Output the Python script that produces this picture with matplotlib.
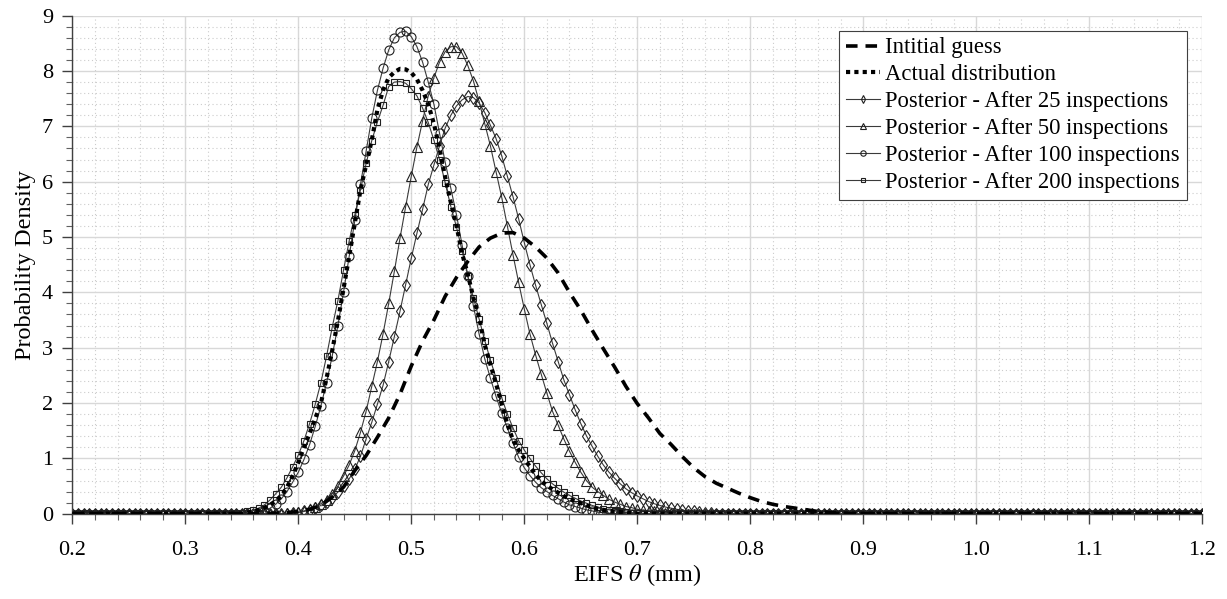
import numpy as np
import matplotlib
matplotlib.use('Agg')
import matplotlib.pyplot as plt
from matplotlib.ticker import MultipleLocator, FormatStrFormatter

plt.rcParams['font.family'] = ['Liberation Serif', 'DejaVu Serif']
plt.rcParams['mathtext.fontset'] = 'stix'

# x grid of the posterior curves (one marker every 0.005 mm)
theta = np.round(np.linspace(0.2, 1.2, 201), 3)

# values, listed from the first non-zero x
guess_start = 0.38
guess_vals = [0.01, 0.02, 0.04, 0.08, 0.15, 0.30, 0.48, 0.78, 1.05, 1.38,
              1.73, 2.16, 2.67, 3.12, 3.50, 3.93, 4.27, 4.56, 4.82, 4.98,
              5.07, 5.08, 4.98, 4.82, 4.62, 4.35, 4.00, 3.68, 3.32, 2.98,
              2.65, 2.30, 1.99, 1.73, 1.45, 1.25, 1.03, 0.83, 0.67, 0.55,
              0.46, 0.37, 0.29, 0.22, 0.17, 0.13, 0.10, 0.07, 0.04, 0.02,
              0.01]

actual_start = 0.355
actual_vals = [0.02, 0.04, 0.07, 0.11, 0.16, 0.23, 0.32, 0.48, 0.68, 0.93,
               1.20, 1.45, 1.72, 2.00, 2.45, 2.95, 3.48, 4.06, 4.65, 5.25,
               5.85, 6.30, 6.75, 7.30, 7.65, 7.88, 7.98, 8.04, 8.03, 7.97,
               7.85, 7.65, 7.40, 7.05, 6.60, 6.08, 5.62, 5.20, 4.70, 4.33,
               3.90, 3.55, 3.05, 2.70, 2.35, 1.98, 1.62, 1.33, 1.15, 1.00,
               0.85, 0.71, 0.59, 0.51, 0.44, 0.38, 0.32, 0.27, 0.23, 0.19,
               0.15, 0.12, 0.09, 0.07, 0.05, 0.04, 0.03, 0.02, 0.01]

post25_start = 0.395
post25_vals = [0.01, 0.02, 0.04, 0.06, 0.10, 0.15, 0.21, 0.29, 0.39, 0.50,
               0.63, 0.80, 1.04, 1.35, 1.65, 1.98, 2.32, 2.75, 3.20, 3.66,
               4.14, 4.62, 5.07, 5.50, 5.95, 6.30, 6.65, 6.97, 7.20, 7.37,
               7.48, 7.54, 7.52, 7.42, 7.25, 7.02, 6.78, 6.47, 6.10, 5.73,
               5.33, 4.90, 4.50, 4.13, 3.78, 3.44, 3.08, 2.75, 2.42, 2.15,
               1.88, 1.63, 1.41, 1.22, 1.04, 0.88, 0.75, 0.64, 0.54, 0.45,
               0.38, 0.32, 0.27, 0.22, 0.18, 0.15, 0.12, 0.10, 0.08, 0.06,
               0.05, 0.04, 0.03, 0.02, 0.01]

post50_start = 0.39
post50_vals = [0.01, 0.02, 0.03, 0.05, 0.08, 0.12, 0.18, 0.25, 0.36, 0.50,
               0.68, 0.88, 1.14, 1.47, 1.85, 2.30, 2.75, 3.25, 3.80, 4.38,
               4.98, 5.55, 6.10, 6.63, 7.10, 7.55, 7.88, 8.16, 8.35, 8.44,
               8.44, 8.32, 8.10, 7.82, 7.45, 7.05, 6.65, 6.18, 5.72, 5.20,
               4.68, 4.18, 3.70, 3.25, 2.87, 2.52, 2.18, 1.85, 1.60, 1.35,
               1.13, 0.93, 0.75, 0.60, 0.48, 0.40, 0.33, 0.26, 0.21, 0.17,
               0.13, 0.11, 0.08, 0.06, 0.05, 0.04, 0.03, 0.02, 0.01]

post100_start = 0.37
post100_vals = [0.05, 0.10, 0.17, 0.27, 0.40, 0.57, 0.75, 0.98, 1.25, 1.58,
                1.95, 2.37, 2.85, 3.40, 4.00, 4.65, 5.30, 5.95, 6.55, 7.15,
                7.65, 8.05, 8.38, 8.60, 8.70, 8.72, 8.62, 8.44, 8.16, 7.80,
                7.40, 6.88, 6.35, 5.88, 5.40, 4.85, 4.30, 3.75, 3.25, 2.80,
                2.45, 2.12, 1.82, 1.55, 1.28, 1.02, 0.83, 0.69, 0.57, 0.47,
                0.40, 0.33, 0.27, 0.21, 0.16, 0.13, 0.10, 0.07, 0.05, 0.03,
                0.02, 0.01]

post200_start = 0.35
post200_vals = [0.02, 0.04, 0.06, 0.10, 0.16, 0.25, 0.36, 0.48, 0.65, 0.85,
                1.06, 1.32, 1.63, 1.98, 2.37, 2.85, 3.37, 3.85, 4.40, 4.93,
                5.40, 5.85, 6.33, 6.74, 7.08, 7.38, 7.72, 7.80, 7.81, 7.78,
                7.68, 7.55, 7.33, 7.07, 6.75, 6.40, 5.98, 5.55, 5.18, 4.75,
                4.30, 3.90, 3.52, 3.13, 2.78, 2.45, 2.10, 1.80, 1.55, 1.32,
                1.15, 1.00, 0.86, 0.74, 0.63, 0.54, 0.46, 0.39, 0.33, 0.28,
                0.23, 0.19, 0.15, 0.12, 0.09, 0.07, 0.05, 0.04, 0.03, 0.02,
                0.01]

labels = ['Intitial guess', 'Actual distribution',
          'Posterior - After 25 inspections', 'Posterior - After 50 inspections',
          'Posterior - After 100 inspections', 'Posterior - After 200 inspections']


def on_grid(x, start, vals):
    # put the read values on the x grid, zero elsewhere
    y = np.zeros(len(x))
    step = x[1] - x[0]
    i0 = int(round((start - x[0]) / step))
    y[i0:i0 + len(vals)] = vals
    return y


theta_guess = np.round(np.linspace(0.2, 1.2, 101), 3)
y_guess = on_grid(theta_guess, guess_start, guess_vals)
y_actual = on_grid(theta, actual_start, actual_vals)
y25 = on_grid(theta, post25_start, post25_vals)
y50 = on_grid(theta, post50_start, post50_vals)
y100 = on_grid(theta, post100_start, post100_vals)
y200 = on_grid(theta, post200_start, post200_vals)

fig = plt.figure(figsize=(12.27, 5.99), dpi=100)
ax = fig.add_axes([0.059, 0.1424, 0.9207, 0.8314])

line_c = '#3a3a3a'
mk = dict(color=line_c, lw=0.8, mfc='none', mec='#202020', mew=0.8)

ax.plot(theta_guess, y_guess, ls=(0, (3.2, 2.2)), color='black', lw=2.6, label=labels[0], zorder=3)
ax.plot(theta, y_actual, ls=(0, (1, 1)), color='black', lw=3.0, label=labels[1], zorder=3)
ax.plot(theta, y25, marker='d', ms=6.5, label=labels[2], **mk)
ax.plot(theta, y50, marker='^', ms=6.5, label=labels[3], **mk)
ax.plot(theta, y100, marker='o', ms=6.5, label=labels[4], **mk)
ax.plot(theta, y200, marker='s', ms=5.0, label=labels[5], **mk)

ax.set_xlim(0.2, 1.2)
ax.set_ylim(0, 9)
ax.xaxis.set_major_locator(MultipleLocator(0.1))
ax.xaxis.set_minor_locator(MultipleLocator(0.02))
ax.yaxis.set_major_locator(MultipleLocator(1))
ax.yaxis.set_minor_locator(MultipleLocator(0.2))
ax.xaxis.set_major_formatter(FormatStrFormatter('%.1f'))

ax.grid(which='major', color='#d8d8d8', lw=1.0, ls='-')
ax.grid(which='minor', color='#cccccc', lw=0.8, ls=(0, (1, 2.5)))
ax.set_axisbelow(True)

for s in ['top', 'right']:
    ax.spines[s].set_visible(False)
for s in ['left', 'bottom']:
    ax.spines[s].set_color('#404040')
    ax.spines[s].set_linewidth(1.0)

ax.tick_params(which='major', length=7, width=1.0, color='#404040', labelsize=16)
ax.tick_params(axis='x', which='major', pad=13)
ax.tick_params(axis='y', which='major', pad=7)
ax.tick_params(which='minor', length=4, width=0.8, color='#606060')

ax.set_xlabel(r'EIFS $\theta$ (mm)', fontsize=17.5, labelpad=1)
ax.set_ylabel('Probability Density', fontsize=17.5, labelpad=4)

leg = ax.legend(loc='upper right', bbox_to_anchor=(0.9865, 0.970), fontsize=16.3,
                frameon=True, fancybox=False, framealpha=1, edgecolor='#404040',
                handlelength=1.5, handletextpad=0.25, labelspacing=0.26,
                borderpad=0.3, borderaxespad=0, markerscale=0.6)
leg.get_frame().set_linewidth(0.8)

fig.savefig('out.png', dpi=100)
